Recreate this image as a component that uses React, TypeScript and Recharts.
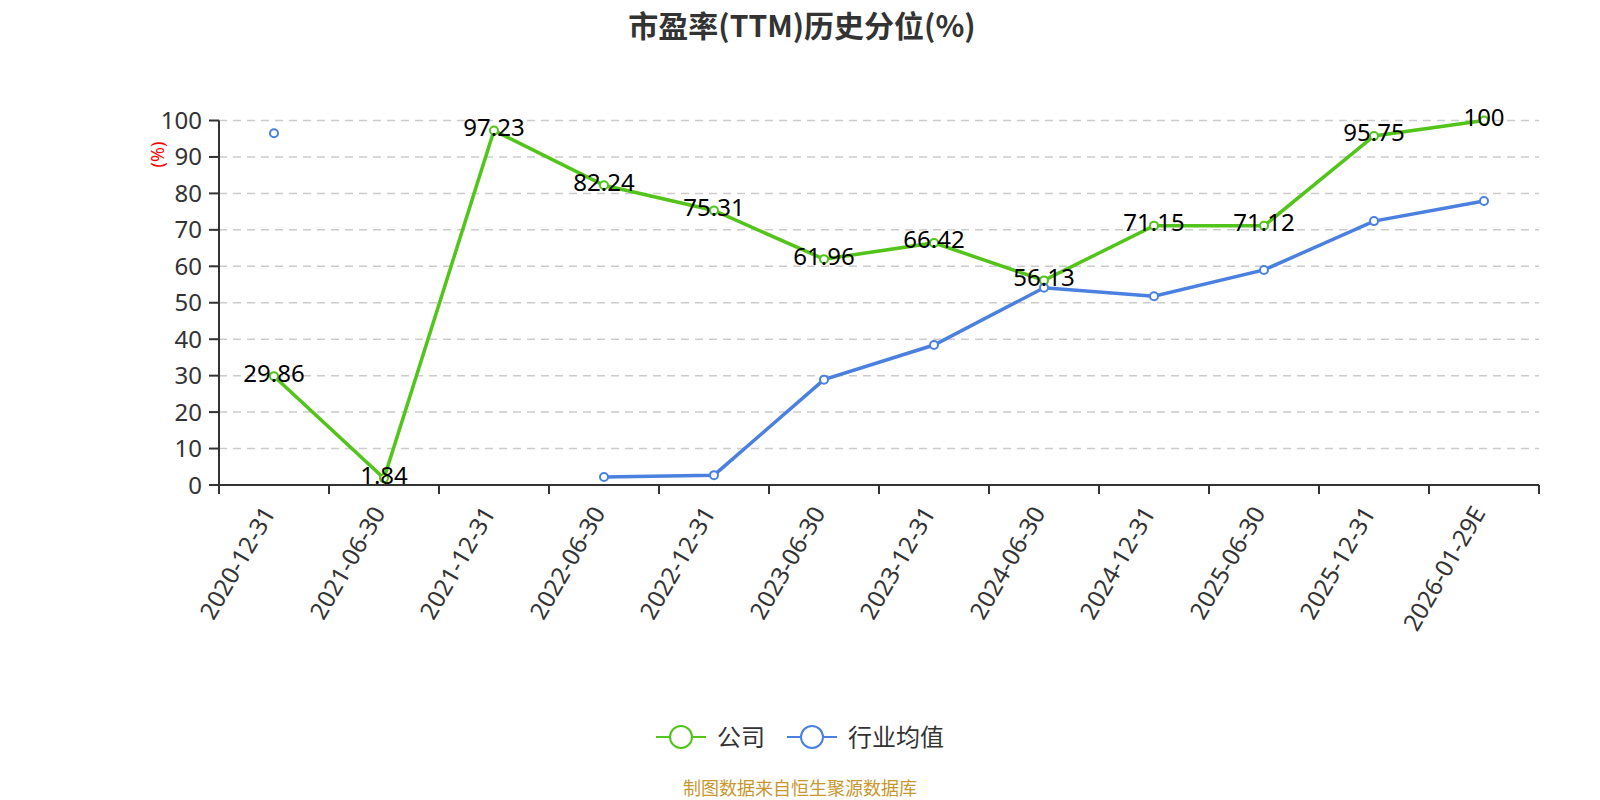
import React from 'react';
import { LineChart, Line, XAxis, YAxis, CartesianGrid } from 'recharts';

const categories = [
  '2020-12-31', '2021-06-30', '2021-12-31', '2022-06-30', '2022-12-31', '2023-06-30',
  '2023-12-31', '2024-06-30', '2024-12-31', '2025-06-30', '2025-12-31', '2026-01-29E',
];
const companyValues = [29.86, 1.84, 97.23, 82.24, 75.31, 61.96, 66.42, 56.13, 71.15, 71.12, 95.75, 100];
const industryValues = [96.5, null, null, 2.2, 2.7, 28.9, 38.4, 54.1, 51.8, 59.0, 72.4, 77.9];
const yTicks = [0, 10, 20, 30, 40, 50, 60, 70, 80, 90, 100];
const seriesNames = ['公司', '行业均值'];
const seriesColors = ['#52c41a', '#4a80e0'];
const titleText = '市盈率(TTM)历史分位(%)';
const yAxisName = '(%)';
const sourceText = '制图数据来自恒生聚源数据库';

const data = categories.map((c, i) => ({
  date: c,
  company: companyValues[i],
  industry: industryValues[i],
}));

const FONT = "'Noto Sans', 'Noto Sans CJK SC', sans-serif";
const BAND = 110;

const XTick = (props: any) => {
  const { x, y, payload, index } = props;
  const n = categories.length;
  const ax = x - 6;
  const ay = y + 23;
  return (
    <g>
      <line x1={x - BAND / 2} x2={x - BAND / 2} y1={y} y2={y + 9} stroke="#333" strokeWidth={2} />
      {index === n - 1 && (
        <line x1={x + BAND / 2} x2={x + BAND / 2} y1={y} y2={y + 9} stroke="#333" strokeWidth={2} />
      )}
      <text
        x={ax}
        y={ay}
        textAnchor="end"
        dominantBaseline="central"
        transform={`rotate(-60 ${ax} ${ay})`}
        fill="#333"
        fontSize={24}
      >
        {payload.value}
      </text>
    </g>
  );
};

const CompanyLabel = (props: any) => {
  const x = props.x ?? props.viewBox?.x;
  const y = props.y ?? props.viewBox?.y;
  if (x == null || y == null) return null;
  return (
    <text x={x} y={y - 4} textAnchor="middle" dominantBaseline="central" fontSize={24} fill="#000">
      {props.value}
    </text>
  );
};

const YName = (props: any) => {
  const vb = props.viewBox || { x: 149, y: 120.5 };
  const cx = vb.x + 8;
  const cy = vb.y + 34;
  return (
    <text
      x={cx}
      y={cy}
      textAnchor="middle"
      dominantBaseline="central"
      transform={`rotate(-90 ${cx} ${cy})`}
      fill="#ff0000"
      fontSize={18}
    >
      {yAxisName}
    </text>
  );
};

export default function App() {
  return (
    <div
      style={{
        position: 'absolute',
        left: 0,
        top: 0,
        width: 1600,
        height: 800,
        background: '#fff',
        fontFamily: FONT,
        overflow: 'hidden',
      }}
    >
      <div
        style={{
          position: 'absolute',
          left: 2,
          top: 0,
          width: 1600,
          height: 48,
          lineHeight: '48px',
          textAlign: 'center',
          fontSize: 30,
          fontWeight: 'bold',
          color: '#333',
          fontFamily: "'Noto Sans CJK SC', 'Noto Sans', sans-serif",
        }}
      >
        {titleText}
      </div>
      <div style={{ position: 'absolute', left: 0, top: 0 }}>
        <LineChart
          width={1600}
          height={800}
          data={data}
          margin={{ top: 120.5, right: 61, bottom: 215, left: 149 }}
        >
          <CartesianGrid vertical={false} stroke="#cccccc" strokeDasharray="8 6" strokeWidth={1.5} />
          <XAxis
            dataKey="date"
            interval={0}
            padding={{ left: 55, right: 55 }}
            height={100}
            axisLine={{ stroke: '#333', strokeWidth: 2 }}
            tickLine={false}
            tickSize={0}
            tickMargin={0}
            tick={<XTick />}
          />
          <YAxis
            width={70}
            domain={[0, 100]}
            ticks={yTicks}
            interval={0}
            axisLine={{ stroke: '#333', strokeWidth: 2 }}
            tickLine={{ stroke: '#333', strokeWidth: 2 }}
            tickSize={10}
            tickMargin={7}
            tick={{ fill: '#333', fontSize: 24 }}
            label={YName}
          />
          <Line
            type="linear"
            dataKey="company"
            name={seriesNames[0]}
            stroke={seriesColors[0]}
            strokeWidth={3.5}
            dot={{ r: 4, fill: '#fff', stroke: seriesColors[0], strokeWidth: 2 }}
            activeDot={false}
            isAnimationActive={false}
            label={CompanyLabel}
          />
          <Line
            type="linear"
            dataKey="industry"
            name={seriesNames[1]}
            stroke={seriesColors[1]}
            strokeWidth={3.5}
            dot={{ r: 4, fill: '#fff', stroke: seriesColors[1], strokeWidth: 2 }}
            activeDot={false}
            connectNulls={false}
            isAnimationActive={false}
          />
        </LineChart>
      </div>
      <div
        style={{
          position: 'absolute',
          left: 0,
          top: 722,
          width: 1600,
          height: 30,
          display: 'flex',
          justifyContent: 'center',
          alignItems: 'center',
          gap: 22,
        }}
      >
        {seriesNames.map((n, i) => (
          <div key={n} style={{ display: 'flex', alignItems: 'center' }}>
            <svg width={50} height={26}>
              <line x1={0} x2={50} y1={13} y2={13} stroke={seriesColors[i]} strokeWidth={2} />
              <circle cx={25} cy={13} r={11} fill="#fff" stroke={seriesColors[i]} strokeWidth={2} />
            </svg>
            <span style={{ marginLeft: 11, fontSize: 24, color: '#333', lineHeight: '30px' }}>{n}</span>
          </div>
        ))}
      </div>
      <div
        style={{
          position: 'absolute',
          left: 0,
          top: 776,
          width: 1600,
          height: 24,
          lineHeight: '24px',
          textAlign: 'center',
          fontSize: 18,
          color: '#c8972f',
        }}
      >
        {sourceText}
      </div>
    </div>
  );
}
